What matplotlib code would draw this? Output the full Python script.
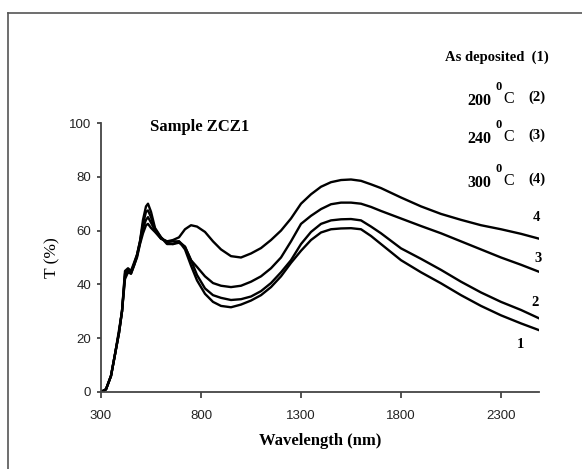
import matplotlib
matplotlib.use("Agg")
import matplotlib.pyplot as plt
from matplotlib.lines import Line2D

W, H = 582, 469

# wavelength grid (nm) and transmittance (%)
wavelength = [300, 325, 350, 370, 390, 405, 420, 435, 450, 465,
              480, 495, 510, 525, 535, 550, 570, 600, 630, 660,
              690, 720, 750, 780, 820, 860, 900, 950, 1000, 1050,
              1100, 1150, 1200, 1250, 1300, 1350, 1400, 1450, 1500, 1550,
              1600, 1650, 1700, 1800, 1900, 2000, 2100, 2200, 2300, 2400,
              2490]

t_as_dep = [0, 1, 6, 14, 22, 30, 45, 46, 45, 48,
            51, 56, 64, 69, 70, 67, 61, 57.5, 55.5, 55,
            56, 53, 47, 41.5, 36.5, 33.5, 32, 31.5, 32.5, 34,
            36, 39, 43, 48, 52.5, 56.5, 59.3, 60.5, 60.8, 60.9,
            60.5, 58, 55, 49, 44.5, 40.4, 36, 32, 28.5, 25.5,
            23]

t_200 = [0, 1, 6, 14, 23, 30, 44, 45, 44.5, 47.5,
         51, 56, 62.5, 67, 67.5, 65, 60.5, 57.5, 55, 55,
         55.5, 54, 49, 43.5, 38.5, 36, 35, 34.2, 34.5, 35.5,
         37.5, 40.5, 44.5, 49, 55, 59.5, 62.5, 63.8, 64.2, 64.3,
         63.8, 61.5, 59, 53.4, 49.5, 45.4, 41, 37, 33.5, 30.5,
         27.4]

t_240 = [0, 1, 6, 14, 22, 30, 43, 45, 44, 47,
         50.5, 55.5, 61, 64, 65, 63, 60, 57, 56, 56,
         56, 54, 49, 46.5, 43, 40.5, 39.5, 39, 39.5, 41,
         43, 46, 50, 56, 62.5, 65.5, 68, 69.8, 70.4, 70.4,
         70, 68.8, 67.3, 64.5, 61.7, 59, 56, 53, 50, 47.3,
         44.7]

t_300 = [0, 1, 6, 14, 22, 30, 42, 44.5, 44, 47,
         50, 55, 59, 62, 62.5, 61, 59.5, 57, 56, 56.5,
         57.5, 60.5, 62, 61.5, 59.5, 56, 53, 50.5, 50, 51.5,
         53.5, 56.5, 60, 64.5, 70, 73.5, 76.3, 78, 78.8, 79,
         78.5, 77.2, 75.8, 72.3, 69, 66.2, 64, 62, 60.5, 58.8,
         57]

series = [t_as_dep, t_200, t_240, t_300]
curve_labels = ["1", "2", "3", "4"]
x_ticks = [300, 800, 1300, 1800, 2300]
y_ticks = [0, 20, 40, 60, 80, 100]

serif = "Liberation Serif"
sans = "Liberation Sans"


def px(x, y):
    """pixel position (top-left origin) -> figure fraction"""
    return x / W, 1 - y / H


fig = plt.figure(figsize=(W / 100, H / 100), dpi=100)
ax = fig.add_axes([101 / W, 1 - 392 / H, (539 - 101) / W, (392 - 123) / H])

for t in series:
    ax.plot(wavelength, t, color="black", linewidth=1.7)

ax.set_xlim(300, 2490)
ax.set_ylim(0, 100)
ax.set_xticks(x_ticks)
ax.set_yticks(y_ticks)
for s in ["top", "right"]:
    ax.spines[s].set_visible(False)
for s in ["left", "bottom"]:
    ax.spines[s].set_color("#444444")
    ax.spines[s].set_linewidth(1.3)
ax.tick_params(axis="x", direction="out", length=4, width=1.3, color="#444444",
               pad=9, labelsize=9.5)
ax.tick_params(axis="y", direction="out", length=3, width=1.3, color="#444444",
               pad=4, labelsize=9.5)
for lab in ax.get_xticklabels() + ax.get_yticklabels():
    lab.set_fontfamily(sans)
    lab.set_color("#222222")

ax.set_xlabel("Wavelength (nm)", fontfamily=serif, fontsize=12,
              fontweight="bold", labelpad=8)
ax.set_ylabel("T (%)", fontfamily=serif, fontsize=12.5, labelpad=6)

# sample name
fig.text(*px(150, 127), "Sample ZCZ1", fontfamily=serif, fontsize=12,
         fontweight="bold", va="center", ha="left")

# legend-like annotation block
fig.text(*px(445, 57), "As deposited  (1)", fontfamily=serif, fontsize=10.5,
         fontweight="bold", va="center", ha="left")
temps = ["200", "240", "300"]
codes = ["(2)", "(3)", "(4)"]
rows_y = [101, 139, 183]
for tmp, code, yy in zip(temps, codes, rows_y):
    fig.text(*px(467, yy), tmp, fontfamily=serif, fontsize=11.5,
             fontweight="bold", va="center", ha="left")
    fig.text(*px(495, yy - 14), "0", fontfamily=serif, fontsize=9,
             fontweight="bold", va="center", ha="left")
    fig.text(*px(503, yy - 2), "C", fontfamily=serif, fontsize=11.5,
             va="center", ha="left")
    fig.text(*px(528, yy - 4), code, fontfamily=serif, fontsize=10.5,
             fontweight="bold", va="center", ha="left")

# curve numbers
label_pos = [(520, 344), (535, 302), (538, 258), (536, 217)]
for lab, (lx, ly) in zip(curve_labels, label_pos):
    fig.text(*px(lx, ly), lab, fontfamily=serif, fontsize=10.5,
             fontweight="bold", va="center", ha="center")

# outer frame (top and left edges visible)
fig.add_artist(Line2D([8 / W, 1], [1 - 13 / H, 1 - 13 / H], transform=fig.transFigure,
                      color="#555555", linewidth=1.2))
fig.add_artist(Line2D([8 / W, 8 / W], [0, 1 - 13 / H], transform=fig.transFigure,
                      color="#555555", linewidth=1.2))

fig.savefig("out.png", dpi=100)
